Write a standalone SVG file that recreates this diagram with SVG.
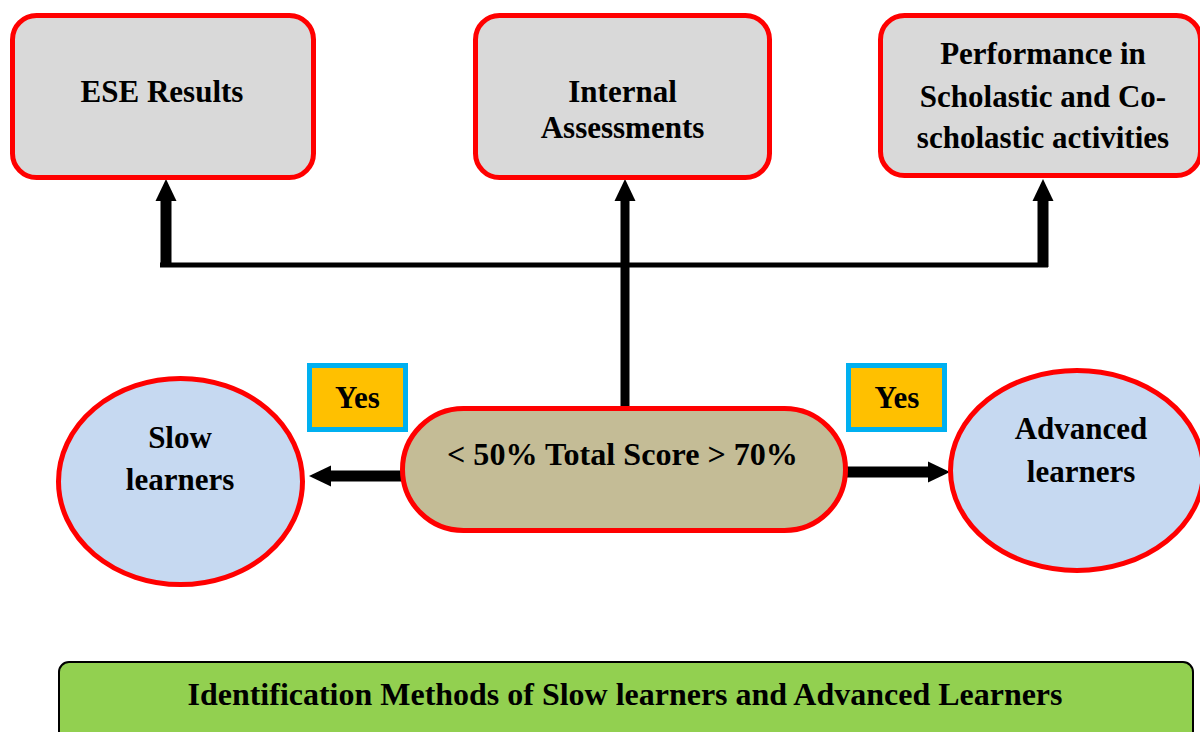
<svg xmlns="http://www.w3.org/2000/svg" width="1200" height="732" viewBox="0 0 1200 732">
  <style>
    .box { fill: #D9D9D9; stroke: #FF0000; stroke-width: 5; }
    .learner { fill: #C6D9F1; stroke: #FF0000; stroke-width: 5; }
    .pill { fill: #C4BC96; stroke: #FF0000; stroke-width: 5; }
    .tag { fill: #FFC000; stroke: #00B0F0; stroke-width: 5; }
    .banner { fill: #92D050; stroke: #000000; stroke-width: 2; }
    .lbl { font-family: "Liberation Serif", "Times New Roman", serif; font-weight: bold; font-size: 31px; fill: #000000; text-anchor: middle; }
    .title { font-size: 31px; }
    .wire { fill: none; stroke: #000000; }
  </style>
  <defs>
    <marker id="head" viewBox="0 -11 22 22" refX="0" refY="0" markerWidth="22" markerHeight="22" markerUnits="userSpaceOnUse" orient="auto">
      <path d="M0,-10.5 L22,0 L0,10.5 z" fill="#000000"/>
    </marker>
  </defs>

  <!-- connectors -->
  <g id="connectors">
    <path class="wire" d="M160,265 H1048" stroke-width="5"/>
    <path class="wire" d="M166,267 V201" stroke-width="11" marker-end="url(#head)"/>
    <path class="wire" d="M1043,267 V201" stroke-width="11" marker-end="url(#head)"/>
    <path class="wire" d="M625,407 V201" stroke-width="9" marker-end="url(#head)"/>
    <path class="wire" d="M402,476 H331" stroke-width="11" marker-end="url(#head)"/>
    <path class="wire" d="M845,472 H928" stroke-width="11" marker-end="url(#head)"/>
  </g>

  <g id="ese-results">
    <rect class="box" x="12.5" y="15.5" width="301" height="162" rx="24"/>
    <text class="lbl" x="162" y="102">ESE Results</text>
  </g>

  <g id="internal-assessments">
    <rect class="box" x="475.5" y="15.5" width="294" height="162" rx="24"/>
    <text class="lbl" x="622.5" y="102">Internal</text>
    <text class="lbl" x="622.5" y="138">Assessments</text>
  </g>

  <g id="performance">
    <rect class="box" x="880.5" y="15.5" width="320" height="160" rx="24"/>
    <text class="lbl" x="1043" y="64">Performance in</text>
    <text class="lbl" x="1043" y="107">Scholastic and Co-</text>
    <text class="lbl" x="1043" y="148">scholastic activities</text>
  </g>

  <g id="total-score">
    <rect class="pill" x="402.5" y="408.5" width="443" height="122" rx="61"/>
    <text class="lbl" x="622.5" y="465" textLength="351" lengthAdjust="spacingAndGlyphs">&lt; 50% Total Score &gt; 70%</text>
  </g>

  <g id="slow-learners">
    <ellipse class="learner" cx="180.5" cy="481.5" rx="122" ry="103"/>
    <text class="lbl" x="180" y="448">Slow</text>
    <text class="lbl" x="180" y="490">learners</text>
  </g>

  <g id="advanced-learners">
    <ellipse class="learner" cx="1077" cy="470.5" rx="126.5" ry="100"/>
    <text class="lbl" x="1081" y="439">Advanced</text>
    <text class="lbl" x="1081" y="482">learners</text>
  </g>

  <g id="yes-left">
    <rect class="tag" x="309.5" y="365.5" width="96" height="64"/>
    <text class="lbl" x="357.5" y="408">Yes</text>
  </g>

  <g id="yes-right">
    <rect class="tag" x="848.5" y="365.5" width="96" height="64"/>
    <text class="lbl" x="897" y="408">Yes</text>
  </g>

  <g id="title-banner">
    <rect class="banner" x="59" y="662" width="1134" height="90" rx="10"/>
    <text class="lbl title" x="625" y="705" textLength="875" lengthAdjust="spacingAndGlyphs">Identification Methods of Slow learners and Advanced Learners</text>
  </g>
</svg>
